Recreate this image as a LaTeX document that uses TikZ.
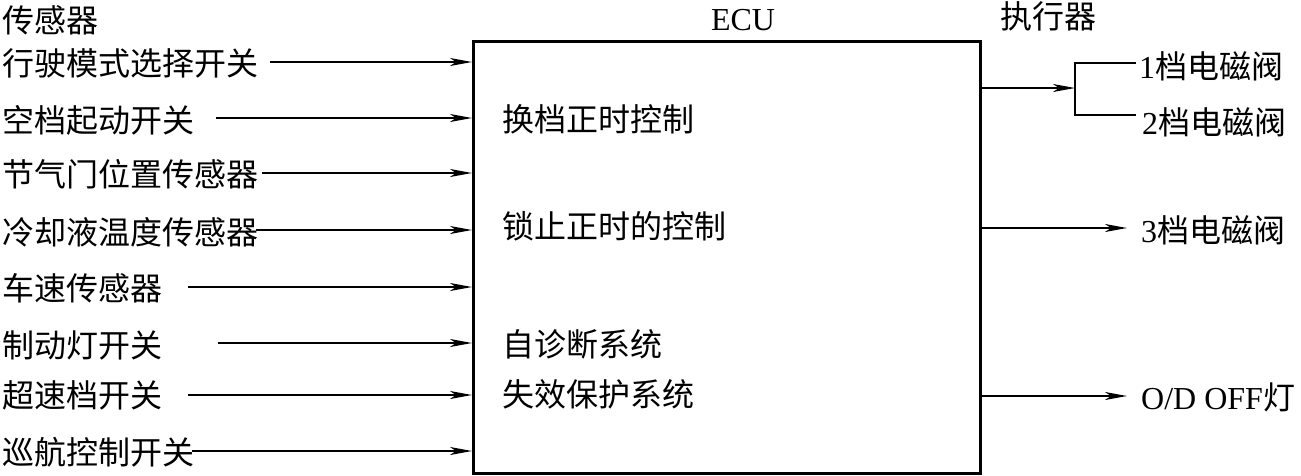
\documentclass[tikz,border=0pt]{standalone}
\usepackage{fontspec}
\setmainfont{Liberation Serif}
\newfontfamily\cjk{Noto Sans CJK SC}
\usetikzlibrary{arrows.meta}
\begin{document}
\begin{tikzpicture}[x=1pt,y=-1pt,
  lbl/.style={anchor=west,inner sep=0pt,font=\fontsize{32}{32}\selectfont\cjk},
  conn/.style={line width=1.6pt,-{Stealth[length=22pt,width=8pt,inset=6pt]}},
  plain/.style={line width=1.6pt}]
\useasboundingbox (0,0) rectangle (1301,475);
% box
\node[draw,line width=2.8pt,minimum width=507pt,minimum height=432pt,inner sep=0pt,anchor=north west] (ecu) at (472,40) {};
\node[inner sep=0pt,font=\fontsize{32}{32}\selectfont] (ecut) at (743,20) {ECU};
\node[lbl] (sens) at (2,20) {传感器};
\node[lbl] (act) at (1000,16) {执行器};
% inputs
\node[lbl] (i1) at (2,63) {行驶模式选择开关};
\node[lbl] (i2) at (2,120) {空档起动开关};
\node[lbl] (i3) at (2,174) {节气门位置传感器};
\node[lbl] (i4) at (2,232) {冷却液温度传感器};
\node[lbl] (i5) at (2,288) {车速传感器};
\node[lbl] (i6) at (2,345) {制动灯开关};
\node[lbl] (i7) at (2,395) {超速档开关};
\node[lbl] (i8) at (2,452) {巡航控制开关};
\coordinate (s1) at (270,62);
\coordinate (s2) at (216,118);
\coordinate (s3) at (262,173);
\coordinate (s4) at (256,230);
\coordinate (s5) at (188,287);
\coordinate (s6) at (218,343);
\coordinate (s7) at (188,395);
\coordinate (s8) at (192,451);
\foreach \k in {1,...,8} {
  \draw[conn] (s\k) -- (s\k -| ecu.west);
}
% inner labels
\node[lbl] (f1) at (502,119) {换档正时控制};
\node[lbl] (f2) at (502,226) {锁止正时的控制};
\node[lbl] (f3) at (502,344) {自诊断系统};
\node[lbl] (f4) at (502,394) {失效保护系统};
% outputs
\coordinate (o1) at (979,88);
\coordinate (bk) at (1075,88);
\coordinate (bt) at (1075,63);
\coordinate (bb) at (1075,115);
\coordinate (et) at (1136,63);
\coordinate (eb) at (1136,115);
\draw[conn] (o1) -- (bk);
\draw[plain] (et) -- (bt) -- (bb) -- (eb);
\node[lbl] (a1) at (1139,66) {\rmfamily 1{\cjk 档电磁阀}};
\node[lbl] (a2) at (1142,122) {\rmfamily 2{\cjk 档电磁阀}};
\coordinate (o3) at (979,228);
\coordinate (e3) at (1127,228);
\draw[conn] (o3) -- (e3);
\node[lbl] (a3) at (1141,230) {\rmfamily 3{\cjk 档电磁阀}};
\coordinate (o4) at (979,396);
\coordinate (e4) at (1127,396);
\draw[conn] (o4) -- (e4);
\node[lbl] (a4) at (1141,397) {\rmfamily O/D OFF{\cjk 灯}};
\end{tikzpicture}
\end{document}
